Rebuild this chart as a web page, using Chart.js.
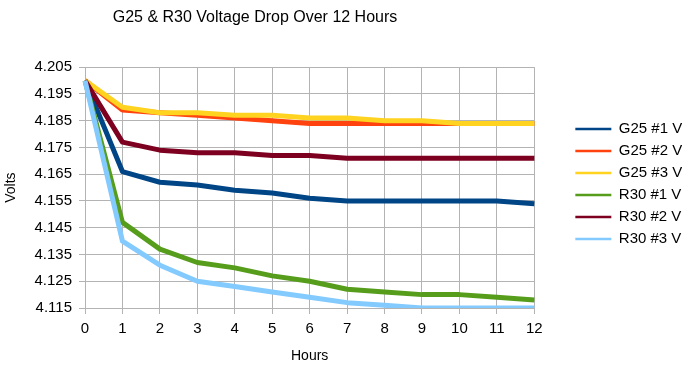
<!DOCTYPE html>
<html>
<head>
<meta charset="utf-8">
<script src="https://cdn.jsdelivr.net/npm/chart.js@4"></script>
<style>
html,body{margin:0;padding:0;background:#fff;}
#wrap{width:689px;height:368px;}
</style>
</head>
<body>
<div id="wrap"><canvas id="c" width="689" height="368"></canvas></div>
<script>
// ---- data ----
const hours = ['0','1','2','3','4','5','6','7','8','9','10','11','12'];
const seriesNames = ['G25 #1 V','G25 #2 V','G25 #3 V','R30 #1 V','R30 #2 V','R30 #3 V'];
const g25_1 = [4.200,4.166,4.162,4.161,4.159,4.158,4.156,4.155,4.155,4.155,4.155,4.155,4.154];
const g25_2 = [4.200,4.189,4.188,4.187,4.186,4.185,4.184,4.184,4.184,4.184,4.184,4.184,4.184];
const g25_3 = [4.200,4.190,4.188,4.188,4.187,4.187,4.186,4.186,4.185,4.185,4.184,4.184,4.184];
const r30_1 = [4.200,4.147,4.137,4.132,4.130,4.127,4.125,4.122,4.121,4.120,4.120,4.119,4.118];
const r30_2 = [4.200,4.177,4.174,4.173,4.173,4.172,4.172,4.171,4.171,4.171,4.171,4.171,4.171];
const r30_3 = [4.200,4.140,4.131,4.125,4.123,4.121,4.119,4.117,4.116,4.115,4.115,4.115,4.115];
const yTicks = [4.115,4.125,4.135,4.145,4.155,4.165,4.175,4.185,4.195,4.205];
const colors = ['#004586','#ff420e','#ffd320','#579d1c','#7e0021','#83caff'];

const allSeries = [g25_1, g25_2, g25_3, r30_1, r30_2, r30_3];

Chart.defaults.font.family = "'Liberation Sans', Arial, sans-serif";
Chart.defaults.color = '#000';

const gridColor = '#b3b3b3';

const titleShift = {
  id: 'titleShift',
  afterLayout(chart) {
    const t = chart.titleBlock;
    if (t) { t.left = 0; t.right = 510; }
  }
};

new Chart(document.getElementById('c'), {
  type: 'line',
  data: {
    labels: hours,
    datasets: allSeries.map((d, i) => ({
      label: seriesNames[i],
      data: d,
      borderColor: colors[i],
      backgroundColor: colors[i],
      borderWidth: 5,
      pointRadius: 0,
      tension: 0,
      fill: false,
      borderJoinStyle: 'round',
      order: allSeries.length - 1 - i
    }))
  },
  options: {
    responsive: false,
    animation: false,
    devicePixelRatio: 1,
    layout: { padding: { left: 0, top: 0, bottom: 0, right: 7 } },
    plugins: {
      title: {
        display: true,
        text: 'G25 & R30 Voltage Drop Over 12 Hours',
        font: { size: 16, weight: 'normal' },
        color: '#000',
        padding: { top: 8, bottom: 40 }
      },
      legend: {
        position: 'right',
        labels: {
          usePointStyle: true,
          pointStyle: 'line',
          pointStyleWidth: 36,
          padding: 7,
          font: { size: 15 },
          color: '#000',
          sort: (a, b) => a.datasetIndex - b.datasetIndex,
          generateLabels(chart) {
            const items = Chart.defaults.plugins.legend.labels.generateLabels(chart);
            items.forEach(it => {
              it.lineWidth = 2.5;
              it.pointStyle = 'line';
              it.strokeStyle = colors[it.datasetIndex];
              it.fillStyle = colors[it.datasetIndex];
            });
            return items;
          }
        }
      },
      tooltip: { enabled: false }
    },
    scales: {
      x: {
        type: 'category',
        offset: false,
        grid: { color: gridColor, tickLength: 6, tickColor: gridColor },
        border: { color: gridColor },
        ticks: { font: { size: 15 }, padding: 6, maxRotation: 0, autoSkip: false, color: '#000' },
        title: { display: true, text: 'Hours', font: { size: 14 }, color: '#000', padding: { top: 0, bottom: 3 } },
        afterFit(s) { s.height = 60; }
      },
      y: {
        type: 'linear',
        position: 'left',
        min: 4.115,
        max: 4.205,
        afterBuildTicks(s) { s.ticks = yTicks.map(v => ({ value: v })); },
        grid: { color: gridColor, tickLength: 6, tickColor: gridColor },
        border: { color: gridColor },
        ticks: { font: { size: 15 }, padding: 7, color: '#000', callback: v => Number(v).toFixed(3) },
        title: { display: true, text: 'Volts', font: { size: 14 }, color: '#000', padding: { top: 3, bottom: 0 } },
        afterFit(s) { s.width = 85; }
      },
      y2: {
        type: 'linear',
        position: 'right',
        display: true,
        grid: { display: false },
        border: { display: false },
        ticks: { display: false },
        afterFit(s) { s.width = 34; }
      }
    }
  },
  plugins: [titleShift]
});
</script>
</body>
</html>
